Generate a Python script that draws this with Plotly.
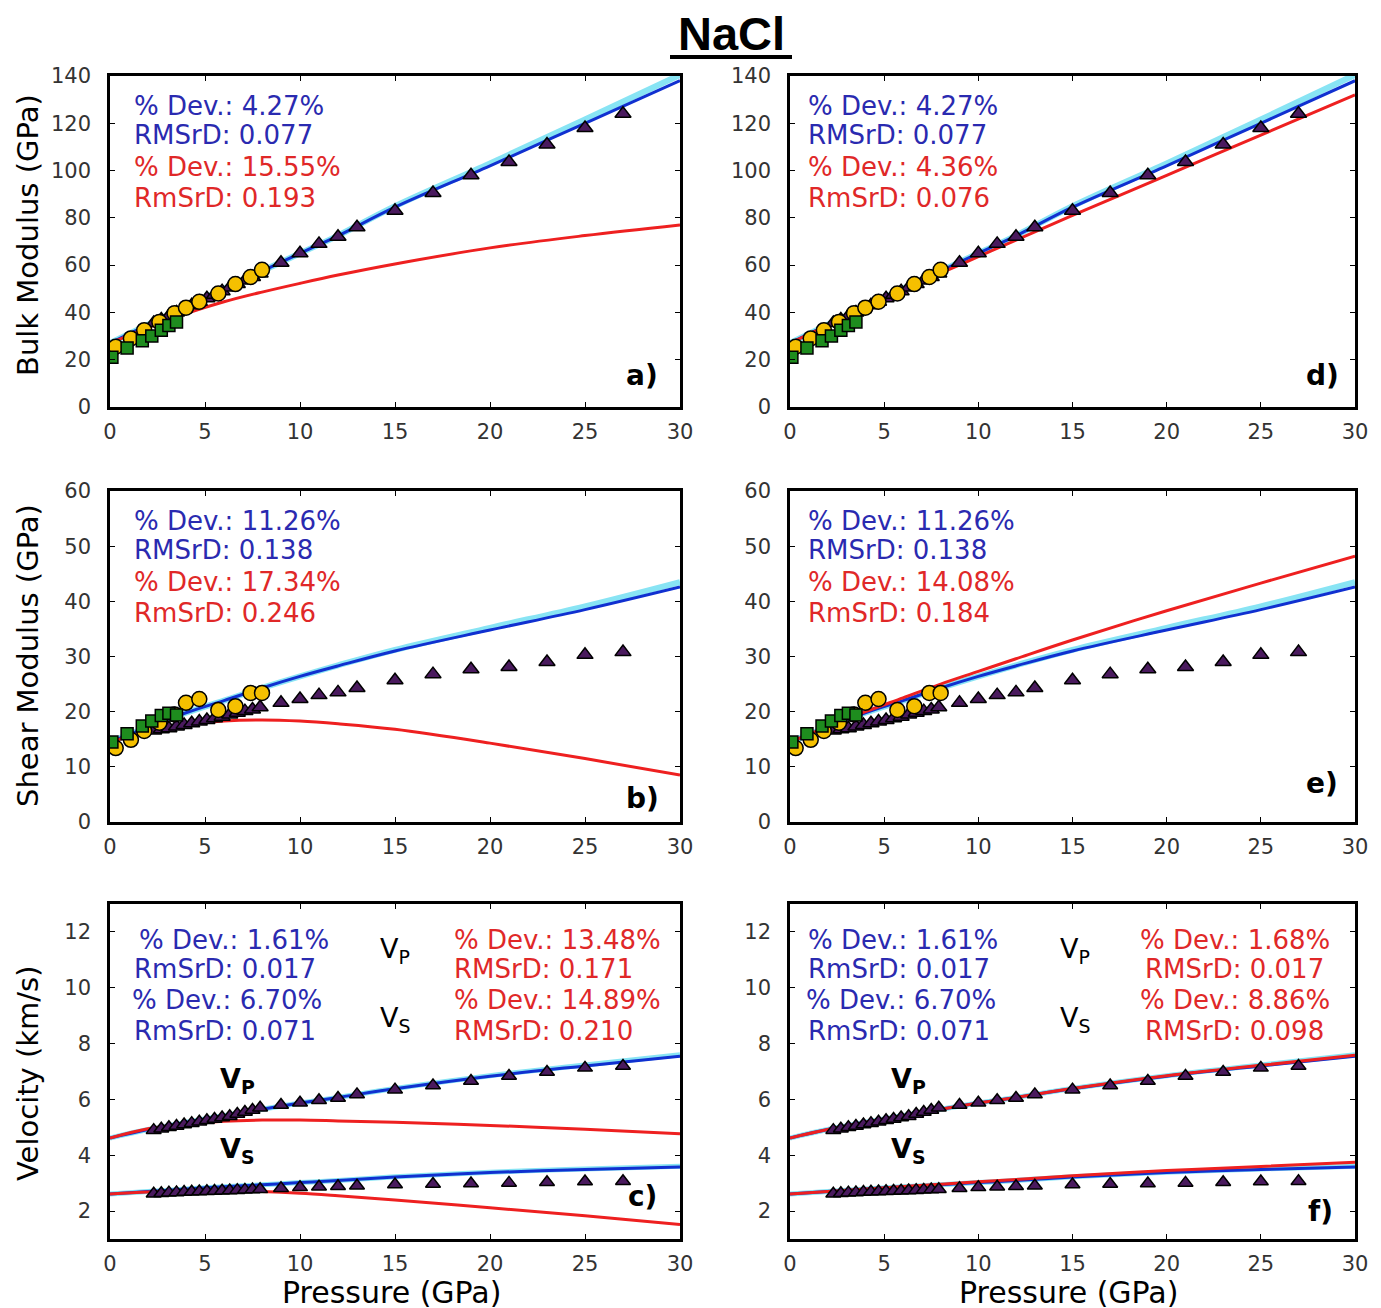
import plotly.graph_objects as go

W, H = 1381, 1308

# ---------------- data ----------------
P_tri = [2.3, 2.7, 3.1, 3.5, 3.9, 4.3, 4.7, 5.1, 5.5, 5.9, 6.3, 6.7, 7.1, 7.5, 7.9,
         9, 10, 11, 12, 13, 15, 17, 19, 21, 23, 25, 27]
K_tri = [35.5, 37, 38.5, 40, 41.5, 43, 44.5, 46, 47.5, 49, 50.5, 52, 53.5, 55, 56.5,
         61, 65, 69, 72, 76, 83, 90.5, 98, 103.6, 111, 118, 124]
G_tri = [16.6, 16.8, 17.0, 17.3, 17.6, 17.9, 18.2, 18.5, 18.8, 19.1, 19.5, 19.8, 20.1, 20.4, 20.8,
         21.6, 22.3, 23.0, 23.5, 24.3, 25.7, 26.8, 27.7, 28.1, 29.0, 30.3, 30.8]
Vp_tri = [4.9, 4.95, 5.0, 5.05, 5.1, 5.15, 5.2, 5.25, 5.3, 5.35, 5.4, 5.48, 5.55, 5.62, 5.7,
          5.8, 5.88, 5.97, 6.05, 6.18, 6.35, 6.5, 6.66, 6.84, 6.98, 7.13, 7.2]
Vs_tri = [2.62, 2.64, 2.66, 2.67, 2.68, 2.69, 2.7, 2.71, 2.72, 2.73, 2.74, 2.75, 2.76, 2.77, 2.78,
          2.82, 2.85, 2.87, 2.89, 2.91, 2.95, 2.97, 2.99, 3.01, 3.03, 3.06, 3.07]

P_yel = [0.3, 1.1, 1.8, 2.6, 3.4, 4.0, 4.7, 5.7, 6.6, 7.4, 8.0]
K_yel = [25.5, 29, 32.5, 36, 39.7, 42, 44.5, 48, 52, 55, 58]
G_yel = [13.4, 14.9, 16.5, 18.0, 19.5, 21.6, 22.3, 20.3, 21.0, 23.4, 23.4]

P_grn = [0.1, 0.9, 1.7, 2.2, 2.7, 3.1, 3.5]
K_grn = [21, 25, 28, 30, 32.5, 34.5, 36]
G_grn = [14.5, 16.0, 17.4, 18.3, 19.3, 19.7, 19.4]

P_line = [0, 2, 4, 6, 8, 10, 12, 15, 20, 25, 30]
K_blue = [27, 34.8, 42.4, 50, 57.5, 65, 72.4, 84.5, 102, 120, 138]
K_cyan = [27, 34.8, 42.4, 50, 57.5, 65, 72.5, 84.9, 103.0, 121.6, 140.5]
K_red_a = [27, 33.5, 39.5, 44.5, 48.6, 52.3, 55.8, 60.5, 67.3, 72.5, 77]
K_red_d = [27, 34.5, 42, 49.4, 56.6, 63.6, 70.6, 81, 98, 115, 132]

G_blue = [14.5, 17.2, 19.8, 22.0, 24.3, 26.4, 28.3, 31.0, 34.8, 38.5, 42.6]
G_cyan = [14.5, 17.2, 19.8, 22.0, 24.3, 26.4, 28.4, 31.2, 35.2, 39.1, 43.5]
G_red_b = [14.5, 16.3, 17.6, 18.3, 18.5, 18.3, 17.8, 16.8, 14.3, 11.5, 8.5]
G_red_e = [14.5, 17.3, 20.0, 22.5, 25.0, 27.3, 29.6, 33.0, 38.3, 43.3, 48.2]

Vp_blue = [4.62, 4.92, 5.18, 5.42, 5.65, 5.87, 6.07, 6.38, 6.83, 7.2, 7.55]
Vp_cyan = [4.62, 4.92, 5.18, 5.42, 5.65, 5.87, 6.07, 6.39, 6.85, 7.23, 7.6]
Vp_red_c = [4.62, 4.95, 5.12, 5.22, 5.26, 5.26, 5.23, 5.18, 5.07, 4.93, 4.77]
Vp_red_f = [4.62, 4.92, 5.18, 5.42, 5.65, 5.87, 6.07, 6.39, 6.85, 7.22, 7.58]
Vs_blue = [2.61, 2.7, 2.79, 2.87, 2.94, 3.02, 3.1, 3.22, 3.38, 3.49, 3.58]
Vs_cyan = [2.61, 2.7, 2.79, 2.87, 2.94, 3.02, 3.1, 3.23, 3.39, 3.51, 3.61]
Vs_red_c = [2.61, 2.68, 2.72, 2.73, 2.7, 2.64, 2.55, 2.4, 2.12, 1.83, 1.52]
Vs_red_f = [2.61, 2.7, 2.79, 2.88, 2.96, 3.05, 3.13, 3.27, 3.45, 3.6, 3.75]

stats_a = ["% Dev.: 4.27%", "RMSrD: 0.077", "% Dev.: 15.55%", "RmSrD: 0.193"]
stats_d = ["% Dev.: 4.27%", "RMSrD: 0.077", "% Dev.: 4.36%", "RmSrD: 0.076"]
stats_b = ["% Dev.: 11.26%", "RMSrD: 0.138", "% Dev.: 17.34%", "RmSrD: 0.246"]
stats_e = ["% Dev.: 11.26%", "RMSrD: 0.138", "% Dev.: 14.08%", "RmSrD: 0.184"]
stats_c_blue = ["% Dev.: 1.61%", "RmSrD: 0.017", "% Dev.: 6.70%", "RmSrD: 0.071"]
stats_c_red = ["% Dev.: 13.48%", "RMSrD: 0.171", "% Dev.: 14.89%", "RMSrD: 0.210"]
stats_f_blue = ["% Dev.: 1.61%", "RmSrD: 0.017", "% Dev.: 6.70%", "RmSrD: 0.071"]
stats_f_red = ["% Dev.: 1.68%", "RMSrD: 0.017", "% Dev.: 8.86%", "RMSrD: 0.098"]

# ---------------- styles ----------------
BLUE = "#1030d0"
CYAN = "#88e4f4"
RED = "#ee2020"
TXT_BLUE = "#2a2ab0"
TXT_RED = "#e02828"
TRI = "#4a1a5e"
YEL = "#f5c000"
GRN = "#1e8c1e"
FONT = "DejaVu Sans"
OFF = 8  # page body margin


def fx(px):
    return (px - OFF) / W


def fy(py):
    return 1 - (py - OFF) / H


fig = go.Figure()


def add_line(x, y, color, width, ax):
    fig.add_trace(go.Scatter(x=x, y=y, mode="lines", line=dict(color=color, width=width, shape="spline"),
                             xaxis="x" + ax, yaxis="y" + ax, showlegend=False, hoverinfo="skip"))


def add_pts(x, y, color, symbol, size, ax):
    fig.add_trace(go.Scatter(x=x, y=y, mode="markers",
                             marker=dict(color=color, symbol=symbol, size=size,
                                         line=dict(color="black", width=1.5)),
                             xaxis="x" + ax, yaxis="y" + ax, showlegend=False))


# Panel a (1) and d (4): bulk modulus
for ax, red in (("", K_red_a), ("4", K_red_d)):
    add_line(P_line, K_cyan, CYAN, 6, ax)
    add_line(P_line, K_blue, BLUE, 3, ax)
    add_line(P_line, red, RED, 3, ax)
    add_pts(P_tri, K_tri, TRI, "triangle-up", 14, ax)
    add_pts(P_yel, K_yel, YEL, "circle", 15, ax)
    add_pts(P_grn, K_grn, GRN, "square", 12, ax)

# Panel b (2) and e (5): shear modulus
for ax, red in (("2", G_red_b), ("5", G_red_e)):
    add_line(P_line, G_cyan, CYAN, 6, ax)
    add_line(P_line, G_blue, BLUE, 3, ax)
    add_line(P_line, red, RED, 3, ax)
    add_pts(P_tri, G_tri, TRI, "triangle-up", 14, ax)
    add_pts(P_yel, G_yel, YEL, "circle", 15, ax)
    add_pts(P_grn, G_grn, GRN, "square", 12, ax)

# Panel c (3) and f (6): velocities
for ax, rp, rs in (("3", Vp_red_c, Vs_red_c), ("6", Vp_red_f, Vs_red_f)):
    add_line(P_line, Vp_cyan, CYAN, 5, ax)
    add_line(P_line, Vs_cyan, CYAN, 5, ax)
    add_line(P_line, Vp_blue, BLUE, 3, ax)
    add_line(P_line, Vs_blue, BLUE, 3, ax)
    add_line(P_line, rp, RED, 3, ax)
    add_line(P_line, rs, RED, 3, ax)
    add_pts(P_tri, Vp_tri, TRI, "triangle-up", 13, ax)
    add_pts(P_tri, Vs_tri, TRI, "triangle-up", 13, ax)

common_axis = dict(showline=True, linewidth=2.5, linecolor="black", mirror="ticks",
                   ticks="inside", ticklen=5, tickwidth=1, tickcolor="black",
                   showgrid=False, zeroline=False, automargin=False,
                   tickfont=dict(family=FONT, size=21, color="#333333"))

xdom_left = [fx(110), fx(680)]
xdom_right = [fx(790), fx(1355)]
ydom_top = [fy(407), fy(76)]
ydom_mid = [fy(822), fy(491)]
ydom_bot = [fy(1239), fy(904)]

layout = dict(width=W, height=H, margin=dict(l=0, r=0, t=0, b=0, autoexpand=False),
              paper_bgcolor="white", plot_bgcolor="white", showlegend=False)

panels = [("", xdom_left, ydom_top, [0, 140], 20),
          ("2", xdom_left, ydom_mid, [0, 60], 10),
          ("3", xdom_left, ydom_bot, [1, 13], 2),
          ("4", xdom_right, ydom_top, [0, 140], 20),
          ("5", xdom_right, ydom_mid, [0, 60], 10),
          ("6", xdom_right, ydom_bot, [1, 13], 2)]
for ax, xd, yd, yr, dt in panels:
    n = ax if ax else ""
    xkey = "xaxis" + n
    ykey = "yaxis" + n
    layout[xkey] = dict(common_axis, domain=xd, range=[0, 30], dtick=5, tick0=0,
                        anchor="y" + n, ticklabelstandoff=4)
    ytick0 = 2 if yr[0] == 1 else 0
    layout[ykey] = dict(common_axis, domain=yd, range=yr, dtick=dt, tick0=ytick0,
                        anchor="x" + n, ticklabelstandoff=12)

fig.update_layout(**layout)

ann = []


def text(x, y, s, color="black", size=26, xanchor="left", bold=False, angle=0, family=FONT):
    ann.append(dict(x=fx(x), y=fy(y), xref="paper", yref="paper", text=("<b>%s</b>" % s) if bold else s,
                    showarrow=False, xanchor=xanchor, yanchor="middle", textangle=angle,
                    font=dict(family=family, size=size, color=color)))


def stats_block(xs, ys, lines, colors, xanchor="left"):
    for x, y, s, c in zip(xs, ys, lines, colors):
        text(x, y, s, c, 26, xanchor)


cols4 = [TXT_BLUE, TXT_BLUE, TXT_RED, TXT_RED]
stats_block([132] * 4, [106, 135, 167, 198], stats_a, cols4)
stats_block([806] * 4, [106, 135, 167, 198], stats_d, cols4)
stats_block([132] * 4, [521, 550, 582, 613], stats_b, cols4)
stats_block([806] * 4, [521, 550, 582, 613], stats_e, cols4)

ys_v = [940, 969, 1000, 1031]
stats_block([137, 132, 130, 132], ys_v, stats_c_blue, [TXT_BLUE] * 4)
stats_block([452, 452, 452, 452], ys_v, stats_c_red, [TXT_RED] * 4)
stats_block([806, 806, 804, 806], ys_v, stats_f_blue, [TXT_BLUE] * 4)
stats_block([1138, 1143, 1138, 1143], ys_v, stats_f_red, [TXT_RED] * 4)

for xc in (395, 1075):
    text(xc, 950, "V<sub>P</sub>", "black", 27, "center")
    text(xc, 1020, "V<sub>S</sub>", "black", 27, "center")
for xc in (237, 908):
    text(xc, 1080, "V<sub>P</sub>", "black", 27, "center", bold=True)
    text(xc, 1150, "V<sub>S</sub>", "black", 27, "center", bold=True)

# panel letters
text(642, 376, "a)", size=28, xanchor="center", bold=True)
text(1322, 376, "d)", size=28, xanchor="center", bold=True)
text(642, 798, "b)", size=28, xanchor="center", bold=True)
text(1322, 783, "e)", size=28, xanchor="center", bold=True)
text(642, 1196, "c)", size=28, xanchor="center", bold=True)
text(1320, 1211, "f)", size=28, xanchor="center", bold=True)

# axis titles
text(28, 235, "Bulk Modulus (GPa)", size=29, xanchor="center", angle=-90)
text(28, 656, "Shear Modulus (GPa)", size=29, xanchor="center", angle=-90)
text(28, 1073, "Velocity (km/s)", size=29, xanchor="center", angle=-90)
text(391, 1292, "Pressure (GPa)", size=30, xanchor="center")
text(1068, 1292, "Pressure (GPa)", size=30, xanchor="center")

# title
text(731, 34, "NaCl", size=47, xanchor="center", bold=True, family="Liberation Sans")

fig.update_layout(annotations=ann,
                  shapes=[dict(type="line", xref="paper", yref="paper",
                               x0=fx(670), x1=fx(792), y0=fy(57), y1=fy(57),
                               line=dict(color="black", width=4))])

fig.write_html("out.html")
